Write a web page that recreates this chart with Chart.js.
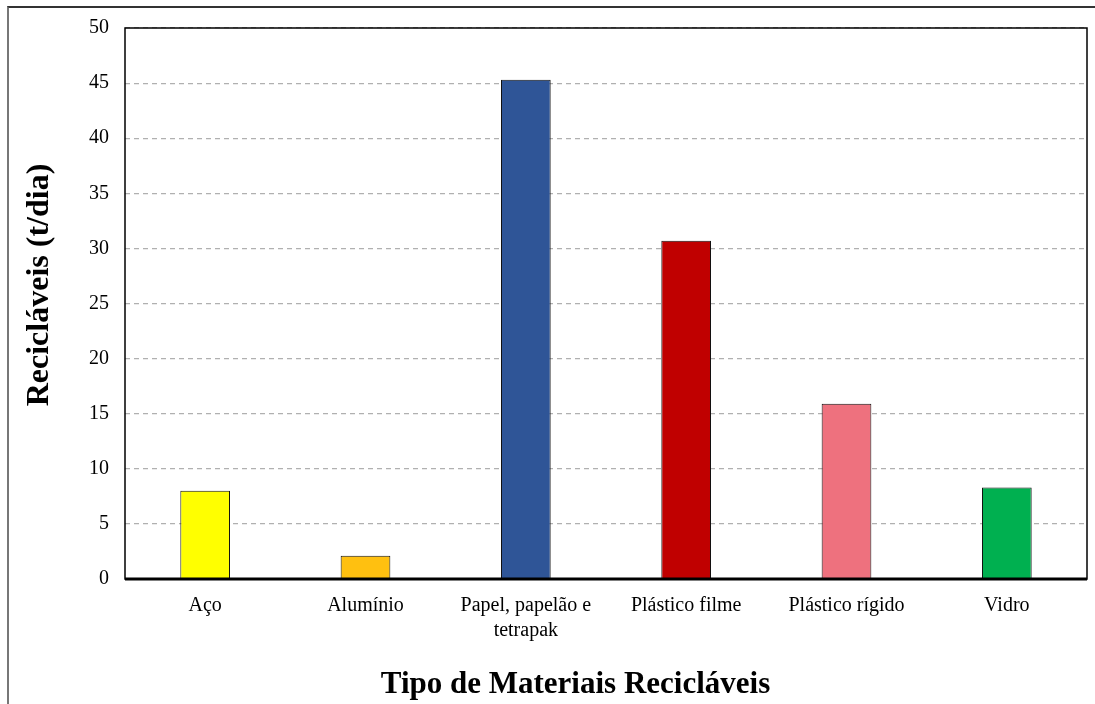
<!DOCTYPE html>
<html>
<head>
<meta charset="utf-8">
<script src="https://cdn.jsdelivr.net/npm/chart.js@4/dist/chart.umd.min.js"></script>
<style>
  body { margin: 0; background: #fff; }
  #frame { position: absolute; left: 7px; top: 6px; width: 1200px; height: 800px; border-left: 2px solid #777; border-top: 2px solid #333; }
  #barCanvas { position: absolute; left: 0; top: 0; }
</style>
</head>
<body>
<div id="frame"></div>
<canvas id="barCanvas" width="1095" height="704"></canvas>
<script>
const materiais = ["Aço", "Alumínio", ["Papel, papelão e", "tetrapak"], "Plástico filme", "Plástico rígido", "Vidro"];
const toneladasDia = [8.0, 2.1, 45.3, 30.7, 15.9, 8.3];
const coresBarras = ["#FFFF00", "#FFC010", "#2F5597", "#C00000", "#EE717E", "#00B050"];
const ticksY = [0, 5, 10, 15, 20, 25, 30, 35, 40, 45, 50];
const tituloX = "Tipo de Materiais Recicláveis";
const tituloY = "Recicláveis (t/dia)";

const fonte = "'Liberation Serif', 'Times New Roman', serif";

// contorno da área do gráfico + títulos dos eixos
const bordaArea = {
    id: "bordaArea",
    afterDraw(chart) {
        const { ctx, chartArea: a } = chart;
        ctx.save();
        ctx.strokeStyle = "#000";
        ctx.lineWidth = 1.5;
        ctx.strokeRect(a.left, a.top, a.right - a.left, a.bottom - a.top);
        ctx.lineWidth = 3;
        ctx.beginPath();
        ctx.moveTo(a.left, a.bottom);
        ctx.lineTo(a.right, a.bottom);
        ctx.stroke();
        ctx.fillStyle = "#000";
        ctx.textAlign = "center";
        ctx.textBaseline = "middle";
        ctx.font = "bold 31px " + fonte;
        ctx.fillText(tituloX, chart.width / 2 + 28, 685);
        ctx.translate(40, 285);
        ctx.rotate(-Math.PI / 2);
        ctx.font = "bold 32px " + fonte;
        ctx.fillText(tituloY, 0, 0);
        ctx.restore();
    }
};

const barCanvas = document.getElementById("barCanvas");
const barChart = new Chart(barCanvas, {
    type: "bar",
    data: {
        labels: materiais,
        datasets: [{
            label: "Recicláveis",
            data: toneladasDia,
            backgroundColor: coresBarras,
            borderColor: "#111",
            borderWidth: 1,
            barPercentage: 0.31,
            categoryPercentage: 1
        }]
    },
    options: {
        responsive: false,
        animation: false,
        layout: {
            padding: { top: 25, right: 8, left: 73, bottom: 47 }
        },
        plugins: {
            legend: { display: false },
            tooltip: { enabled: false }
        },
        scales: {
            y: {
                min: 0,
                max: 50,
                afterBuildTicks: (axis) => { axis.ticks = ticksY.map(v => ({ value: v })); },
                grid: {
                    color: "#b0b0b0",
                    lineWidth: 1.2,
                    drawTicks: false
                },
                border: { display: false, dash: [5, 4] },
                ticks: {
                    color: "#000",
                    font: { family: fonte, size: 20 },
                    padding: 16
                }
            },
            x: {
                grid: { display: false, drawTicks: false },
                border: { display: false },
                ticks: {
                    color: "#000",
                    font: { family: fonte, size: 20, lineHeight: 1.25 },
                    padding: 14,
                    maxRotation: 0
                }
            }
        }
    },
    plugins: [bordaArea]
});
</script>
</body>
</html>
